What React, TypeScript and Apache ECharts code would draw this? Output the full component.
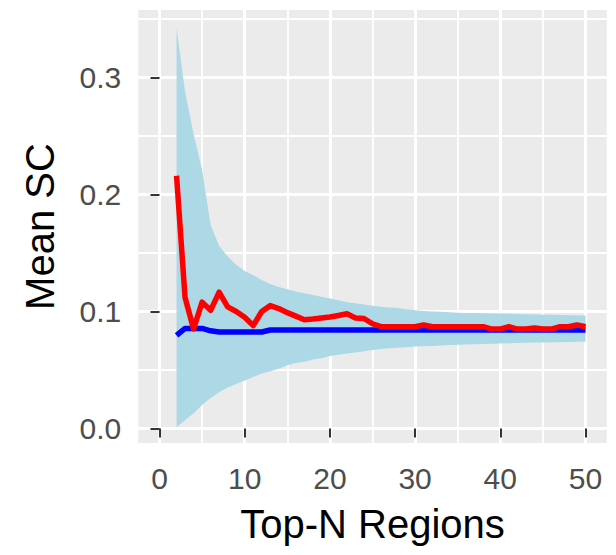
import React, { useEffect, useRef } from 'react';
import * as echarts from 'echarts';

// ---- data ----
const topN = [2, 3, 4, 5, 6, 7, 8, 9, 10, 11, 12, 13, 14, 15, 16, 17, 18, 19, 20, 21, 22, 23, 24, 25, 26,
  27, 28, 29, 30, 31, 32, 33, 34, 35, 36, 37, 38, 39, 40, 41, 42, 43, 44, 45, 46, 47, 48, 49, 50];

const bandUpper = [0.342, 0.288, 0.252, 0.221, 0.174, 0.156, 0.147, 0.140, 0.1345, 0.131, 0.127, 0.1235,
  0.121, 0.119, 0.117, 0.1155, 0.114, 0.1125, 0.111, 0.1095, 0.108, 0.107, 0.106, 0.105, 0.104,
  0.1035, 0.103, 0.102, 0.101, 0.1005, 0.100, 0.0998, 0.0994, 0.099, 0.0988, 0.0986, 0.0984, 0.0983,
  0.0982, 0.098, 0.0978, 0.0976, 0.0975, 0.0973, 0.0972, 0.097, 0.0968, 0.0967, 0.0966];

const bandLower = [0.001, 0.007, 0.013, 0.020, 0.026, 0.031, 0.035, 0.038, 0.041, 0.044, 0.047, 0.049,
  0.051, 0.054, 0.056, 0.057, 0.059, 0.060, 0.062, 0.063, 0.064, 0.065, 0.066, 0.067, 0.068,
  0.0685, 0.069, 0.0695, 0.070, 0.0703, 0.0706, 0.071, 0.0713, 0.0716, 0.0718, 0.072, 0.0722, 0.0724,
  0.0726, 0.0728, 0.073, 0.0732, 0.0734, 0.0735, 0.0737, 0.0738, 0.074, 0.0741, 0.0742];

const blueMean = [0.0795, 0.0855, 0.0855, 0.0855, 0.0835, 0.0825, 0.0825, 0.0825, 0.0825, 0.0825, 0.0825,
  0.0842, 0.0842, 0.0842, 0.0842, 0.0842, 0.0842, 0.0842, 0.0842, 0.0842, 0.0842, 0.0842, 0.0842, 0.0842,
  0.0842, 0.0842, 0.0842, 0.0842, 0.0842, 0.0842, 0.0842, 0.0842, 0.0842, 0.0842, 0.0842, 0.0842, 0.0842,
  0.0842, 0.0842, 0.0842, 0.0842, 0.0842, 0.0842, 0.0842, 0.0842, 0.0842, 0.0842, 0.0842, 0.0842];

const redMean = [0.216, 0.112, 0.085, 0.108, 0.101, 0.1165, 0.104, 0.100, 0.095, 0.088, 0.100, 0.105,
  0.1025, 0.099, 0.096, 0.093, 0.0935, 0.0944, 0.0953, 0.0966, 0.098, 0.0945, 0.094, 0.0895, 0.087,
  0.087, 0.087, 0.087, 0.087, 0.0885, 0.087, 0.087, 0.087, 0.087, 0.087, 0.087, 0.087, 0.085,
  0.085, 0.087, 0.085, 0.085, 0.086, 0.085, 0.085, 0.087, 0.087, 0.0885, 0.087];

const xTickValues = [0, 10, 20, 30, 40, 50];
const yTickValues = [0, 0.1, 0.2, 0.3];

const xTitle = 'Top-N Regions';
const yTitle = 'Mean SC';

export default function App() {
  const ref = useRef<HTMLDivElement>(null);

  useEffect(() => {
    const chart = echarts.init(ref.current as HTMLDivElement, null, { renderer: 'svg' });

    const X_MIN = -2.5, X_MAX = 52.5, X_STEP = 2.5;
    const Y_MIN = -0.0125, Y_MAX = 0.3577, Y_STEP = 0.0125;
    const T = 'rgba(0,0,0,0)';
    const W = '#FFFFFF';
    const FONT = "'Liberation Sans', Arial, sans-serif";

    const hidden = {
      axisLine: { show: false },
      axisTick: { show: false },
      axisLabel: { show: false },
      splitLine: { show: false },
    };
    const xBase = { type: 'value', min: X_MIN, max: X_MAX, interval: X_STEP, position: 'bottom', gridIndex: 0 };
    const yBase = { type: 'value', min: Y_MIN, max: Y_MAX, interval: Y_STEP, position: 'left', gridIndex: 0 };

    const option: any = {
      animation: false,
      backgroundColor: '#FFFFFF',
      grid: {
        left: 138.2, top: 10, width: 468.6, height: 433.1,
        show: true, backgroundColor: '#EBEBEB', borderWidth: 0,
      },
      xAxis: [
        { ...xBase, ...hidden },
        { ...xBase, ...hidden, splitLine: { show: true, lineStyle: { color: [T, W, T, T], width: 3 } } },
        { ...xBase, ...hidden, splitLine: { show: true, lineStyle: { color: [T, T, T, W], width: 1.8 } } },
        {
          ...xBase, ...hidden,
          axisTick: { show: true, customValues: xTickValues, length: 9, lineStyle: { color: '#333333', width: 2 } },
          axisLabel: {
            show: true, customValues: xTickValues, fontSize: 30, color: '#4D4D4D', margin: 20, fontFamily: FONT,
            formatter: (v: number) => String(Math.round(v)),
          },
          name: xTitle, nameLocation: 'middle', nameGap: 61,
          nameTextStyle: { fontSize: 40, color: '#000000', fontFamily: FONT },
        },
      ],
      yAxis: [
        { ...yBase, ...hidden },
        { ...yBase, ...hidden, splitLine: { show: true, lineStyle: { color: [T, W, T, T, T, T, T, T], width: 3 } } },
        { ...yBase, ...hidden, splitLine: { show: true, lineStyle: { color: [T, T, T, T, T, W, T, T], width: 1.8 } } },
        {
          ...yBase, ...hidden,
          axisTick: { show: true, customValues: yTickValues, length: 9, lineStyle: { color: '#333333', width: 2 } },
          axisLabel: {
            show: true, customValues: yTickValues, fontSize: 30, color: '#4D4D4D', margin: 17, fontFamily: FONT,
            formatter: (v: number) => v.toFixed(1),
          },
          name: yTitle, nameLocation: 'middle', nameGap: 78, nameRotate: 90,
          nameTextStyle: { fontSize: 40, color: '#000000', fontFamily: FONT },
        },
      ],
      series: [
        {
          type: 'custom',
          xAxisIndex: 0, yAxisIndex: 0,
          silent: true,
          z: 1,
          data: topN.map((n, i) => [n, bandLower[i], bandUpper[i]]),
          encode: { x: 0, y: [1, 2] },
          renderItem: (params: any, api: any) => {
            if (params.dataIndex !== 0) return null;
            const pts: number[][] = [];
            for (let i = 0; i < topN.length; i++) pts.push(api.coord([topN[i], bandUpper[i]]));
            for (let i = topN.length - 1; i >= 0; i--) pts.push(api.coord([topN[i], bandLower[i]]));
            return { type: 'polygon', shape: { points: pts }, style: { fill: '#ADD8E6' } };
          },
        },
        {
          type: 'line',
          xAxisIndex: 0, yAxisIndex: 0,
          z: 3,
          showSymbol: false,
          silent: true,
          data: topN.map((n, i) => [n, blueMean[i]]),
          lineStyle: { color: '#0000FF', width: 5.5, join: 'round' },
        },
        {
          type: 'line',
          xAxisIndex: 0, yAxisIndex: 0,
          z: 4,
          showSymbol: false,
          silent: true,
          data: topN.map((n, i) => [n, redMean[i]]),
          lineStyle: { color: '#FF0000', width: 5.5, join: 'round' },
        },
      ],
    };

    chart.setOption(option);
    return () => chart.dispose();
  }, []);

  return (
    <div
      ref={ref}
      style={{ position: 'absolute', left: 0, top: 0, width: 616, height: 555 }}
    />
  );
}
